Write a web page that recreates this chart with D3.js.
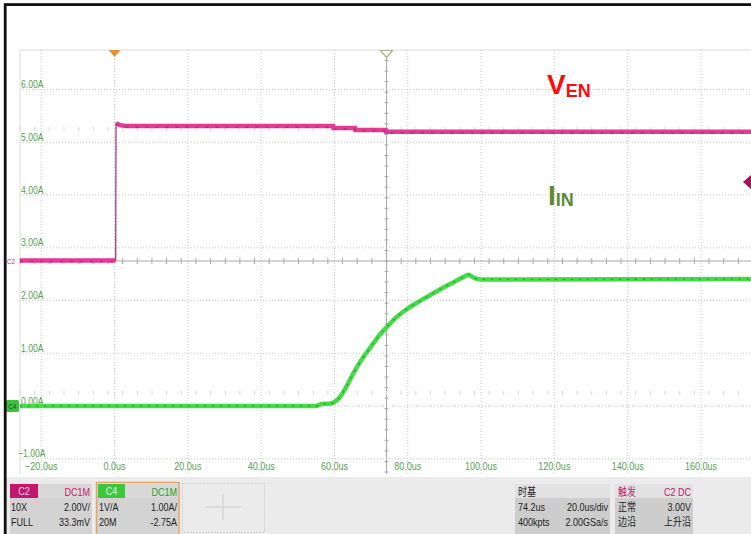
<!DOCTYPE html>
<html><head><meta charset="utf-8">
<script src="https://cdn.jsdelivr.net/npm/d3@7"></script>
<style>
body{margin:0;background:#fff;overflow:hidden}
svg{display:block}
.nar{font-family:"Liberation Sans",Arial,sans-serif}
.cjk{font-family:"Liberation Sans","Noto Sans CJK SC",sans-serif}
</style>
</head><body>
<svg id="c" width="751" height="534"></svg>
<script>
// ---- data ----
const timeTicks = [-20, 0, 20, 40, 60, 80, 100, 120, 140, 160];        // us
const currentTicks = [-1, 0, 1, 2, 3, 4, 5, 6];                        // A
const venTime  = [-25.8, 0.3, 0.4, 1.5, 3.0, 59.6, 59.7, 65.6, 65.7, 74.0, 74.1, 174.2];
const venVolts = [0.02, 0.02, 5.22, 5.15, 5.12, 5.12, 5.04, 5.04, 4.97, 4.97, 4.9, 4.9];
const iinTime = [-25.8, 55, 56.5, 59, 60.5, 62, 63.5, 65, 66.5, 68, 70, 72, 74.3, 77, 80, 83, 86, 89, 92, 95, 96.6, 97.6, 99, 101, 174.2];
const iinAmps = [0, 0, 0.04, 0.05, 0.1, 0.22, 0.4, 0.6, 0.78, 0.94, 1.13, 1.32, 1.5, 1.69, 1.85, 1.98, 2.1, 2.22, 2.33, 2.44, 2.49, 2.45, 2.41, 2.40, 2.41];
const timeBase = ["时基", "", "74.2us", "20.0us/div", "400kpts", "2.00GSa/s"];
const ch2Info = ["C2", "DC1M", "10X", "2.00V/", "FULL", "33.3mV"];
const ch4Info = ["C4", "DC1M", "1V/A", "1.00A/", "20M", "-2.75A"];
const trigInfo = ["触发", "C2 DC", "正常", "3.00V", "边沿", "上升沿"];
const triggerLevel = 3.0;   // V
const centerTime = 74.2, centerAmps = 2.75;

// ---- scales ----
const svg = d3.select("#c");
const x = d3.scaleLinear().domain([-25.8, 174.2]).range([20, 753]);
const yA = d3.scaleLinear().domain([-1.25, 6.75]).range([472, 50]);
const yV = d3.scaleLinear().domain([-8, 8]).range([472, 50]);
const pTop = 50, pBot = 474, pLeft = 20, pRight = 751;
const SQ = 0.82; // horizontal condensing of the scope's narrow font
const tr = (px, py) => `translate(${px},${py}) scale(${SQ},1)`;

svg.append("rect").attr("x", 0).attr("y", 0).attr("width", 751).attr("height", 534).attr("fill", "#fff");

// plot borders
svg.append("line").attr("x1", pLeft).attr("x2", pRight).attr("y1", pTop).attr("y2", pTop).attr("stroke", "#dcdcdc");
svg.append("line").attr("x1", pLeft).attr("x2", pLeft).attr("y1", pTop).attr("y2", pBot).attr("stroke", "#dcdcdc");

// grid
const g = svg.append("g");
g.append("g").selectAll("line").data(timeTicks).join("line")
  .attr("x1", d => x(d)).attr("x2", d => x(d)).attr("y1", pTop).attr("y2", pBot)
  .attr("stroke", "#c8c8c8").attr("stroke-dasharray", "1,2");
g.append("g").selectAll("line").data(currentTicks).join("line")
  .attr("x1", pLeft).attr("x2", pRight).attr("y1", d => yA(d)).attr("y2", d => yA(d))
  .attr("stroke", "#c8c8c8").attr("stroke-dasharray", "1,2");

// center axes with minor ticks
const cy = yA(centerAmps), cx = x(centerTime);
svg.append("line").attr("x1", pLeft).attr("x2", pRight).attr("y1", cy).attr("y2", cy).attr("stroke", "#a8a8a8");
svg.append("line").attr("x1", cx).attr("x2", cx).attr("y1", pTop).attr("y2", pBot).attr("stroke", "#a8a8a8");
const hTicks = d3.range(-50, 51).map(k => centerTime + 4 * k).filter(t => x(t) > pLeft && x(t) < pRight);
svg.append("g").selectAll("line").data(hTicks).join("line")
  .attr("x1", d => x(d)).attr("x2", d => x(d)).attr("y1", cy - 3).attr("y2", cy + 3).attr("stroke", "#a8a8a8");
const vTicks = d3.range(-20, 21).map(k => centerAmps + 0.2 * k).filter(v => yA(v) > pTop && yA(v) < pBot);
svg.append("g").selectAll("line").data(vTicks).join("line")
  .attr("x1", cx - 2).attr("x2", cx + 2).attr("y1", d => yA(d)).attr("y2", d => yA(d)).attr("stroke", "#a8a8a8");
[centerAmps + 2.5, centerAmps - 2.5].forEach(v => {
  svg.append("g").selectAll("line").data(hTicks).join("line")
    .attr("x1", d => x(d)).attr("x2", d => x(d)).attr("y1", yA(v) - 2).attr("y2", yA(v) + 2)
    .attr("stroke", "#d6d6d6");
});

// axis labels
svg.append("g").selectAll("text").data(currentTicks).join("text").attr("class", "nar")
  .attr("transform", d => tr(d < 0 ? 18 : 21, yA(d) - 1.5))
  .attr("font-size", 10.5).attr("fill", "#55a055")
  .text(d => d3.format(".2f")(d) + "A");
svg.append("g").selectAll("text").data(timeTicks).join("text").attr("class", "nar")
  .attr("transform", d => tr(x(d), 470)).attr("text-anchor", "middle")
  .attr("font-size", 11).attr("fill", "#55a055")
  .text(d => d3.format(".1f")(d) + "us");

// ---- traces ----
const ven = venTime.map((t, i) => ({t, v: venVolts[i]}));
const iin = iinTime.map((t, i) => ({t, v: iinAmps[i]}));
const lineV = d3.line().x(d => x(d.t)).y(d => yV(d.v)).defined(d => d !== null);
const lineA = d3.line().x(d => x(d.t)).y(d => yA(d.v)).curve(d3.curveMonotoneX);
svg.append("path").datum(ven).attr("d", lineV).attr("fill", "none").attr("stroke", "#a23a8e").attr("stroke-width", 1.3);
const venSeg = [];
ven.forEach((d, i) => {
  if (i > 0 && Math.abs(d.v - ven[i - 1].v) > 1 && d.t - ven[i - 1].t < 1) venSeg.push(null);
  venSeg.push(d);
});
svg.append("path").datum(venSeg).attr("d", lineV).attr("fill", "none").attr("stroke", "#e23b93").attr("stroke-width", 4.5);
svg.append("path").datum(venSeg).attr("d", lineV).attr("fill", "none").attr("stroke", "#9c1f60")
  .attr("stroke-width", 1.4).attr("stroke-dasharray", "3,7").attr("opacity", 0.55)
  .attr("transform", "translate(0,1)");

svg.append("path").datum(iin).attr("d", lineA).attr("fill", "none").attr("stroke", "#44dc44").attr("stroke-width", 4.5);
svg.append("path").datum(iin).attr("d", lineA).attr("fill", "none").attr("stroke", "#2a6e2a")
  .attr("stroke-width", 1.3).attr("stroke-dasharray", "2,6").attr("opacity", 0.6);

// markers
const tx0 = x(0);
svg.append("path").attr("d", `M${tx0 - 6},${pTop}L${tx0 + 6},${pTop}L${tx0},${pTop + 7}Z`).attr("fill", "#e8922c");
svg.append("path").attr("d", `M${cx - 6},${pTop + 0.5}L${cx + 6},${pTop + 0.5}L${cx},${pTop + 7.5}Z`)
  .attr("fill", "#fff").attr("stroke", "#b4b07a").attr("stroke-width", 1.2);
const ty = yV(triggerLevel);
svg.append("path").attr("d", `M${pRight - 8},${ty}L${pRight},${ty - 7}L${pRight + 8},${ty}L${pRight},${ty + 7}Z`).attr("fill", "#a3155c");
svg.append("text").attr("class", "nar").attr("transform", tr(7, yV(0) + 2.5)).attr("font-size", 7.5).attr("fill", "#b03a78").text("C2");
svg.append("rect").attr("x", 6).attr("y", yA(0) - 6).attr("width", 13).attr("height", 12).attr("rx", 1.5).attr("fill", "#3cbf3c");
svg.append("text").attr("class", "nar").attr("transform", tr(12.5, yA(0) + 2.5)).attr("text-anchor", "middle").attr("font-size", 7.5).attr("fill", "#1e4e1e").text("C4");

// annotations
const ann = svg.append("g").attr("font-family", "'Liberation Sans',Arial,sans-serif").attr("font-weight", "bold");
const t1 = ann.append("text").attr("x", 547).attr("y", 94).attr("fill", "#fe0a0a");
t1.append("tspan").attr("font-size", 28).text("V");
t1.append("tspan").attr("font-size", 18).attr("dy", 3).text("EN");
const t2 = ann.append("text").attr("x", 548).attr("y", 205).attr("fill", "#5a8a32");
t2.append("tspan").attr("font-size", 28).text("I");
t2.append("tspan").attr("font-size", 18).attr("dy", 1).text("IN");

// ---- bottom panel ----
svg.append("rect").attr("x", 6).attr("y", 477).attr("width", 745).attr("height", 57).attr("fill", "#ebebeb");
function block(x0, x1, hdrBg, rowBg) {
  svg.append("rect").attr("x", x0).attr("y", 484).attr("width", x1 - x0).attr("height", 14).attr("fill", hdrBg);
  svg.append("rect").attr("x", x0).attr("y", 498).attr("width", x1 - x0).attr("height", 36).attr("fill", rowBg);
}
function rows(info, x0, x1, c1, c2, cls) {
  const ys = [495.5, 510.5, 526];
  const p = svg.append("g").attr("class", cls || "nar").attr("font-size", 11);
  for (let r = 0; r < 3; r++) {
    if (r > 0 || c1) p.append("text").attr("transform", tr(x0, ys[r])).attr("fill", r === 0 ? c1 : "#222").text(info[2 * r]);
    p.append("text").attr("transform", tr(x1, ys[r])).attr("text-anchor", "end").attr("fill", r === 0 ? c2 : "#222").text(info[2 * r + 1]);
  }
}
block(10, 92, "#d8d8d8", "#d3d3d3");
svg.append("rect").attr("x", 10).attr("y", 484).attr("width", 28).attr("height", 14).attr("fill", "#c2176c");
svg.append("text").attr("class", "nar").attr("transform", tr(24, 495)).attr("text-anchor", "middle").attr("font-size", 11).attr("fill", "#f4d6e6").text(ch2Info[0]);
rows(ch2Info, 11, 90, null, "#c2176c");
block(97, 178, "#d8d8d8", "#d3d3d3");
svg.append("rect").attr("x", 96.5).attr("y", 482.5).attr("width", 82.5).attr("height", 54).attr("fill", "none").attr("stroke", "#e3a466").attr("stroke-width", 1.5);
svg.append("rect").attr("x", 98).attr("y", 484).attr("width", 27).attr("height", 14).attr("fill", "#3cc83c");
svg.append("text").attr("class", "nar").attr("transform", tr(111.5, 495)).attr("text-anchor", "middle").attr("font-size", 11).attr("fill", "#e6f6e6").text(ch4Info[0]);
rows(ch4Info, 99, 177, null, "#22a322");
svg.append("rect").attr("x", 182.5).attr("y", 483.5).attr("width", 82).attr("height", 49).attr("fill", "none").attr("stroke", "#b8b8b8").attr("stroke-dasharray", "1,2");
svg.append("line").attr("x1", 205).attr("x2", 241).attr("y1", 507).attr("y2", 507).attr("stroke", "#cdcdcd");
svg.append("line").attr("x1", 223).attr("x2", 223).attr("y1", 494).attr("y2", 520).attr("stroke", "#cdcdcd");
block(515, 610, "#e2e2e2", "#cdcdcd");
rows(timeBase, 518, 608, "#222", "#222", "cjk");
block(615, 693, "#e2e2e2", "#cdcdcd");
rows(trigInfo, 618, 691, "#c2176c", "#c2176c", "cjk");

// outer black frame (top and left)
svg.append("rect").attr("x", 5.2).attr("y", 4.6).attr("width", 760).attr("height", 540).attr("fill", "none").attr("stroke", "#111").attr("stroke-width", 2.8);
</script>
</body></html>
